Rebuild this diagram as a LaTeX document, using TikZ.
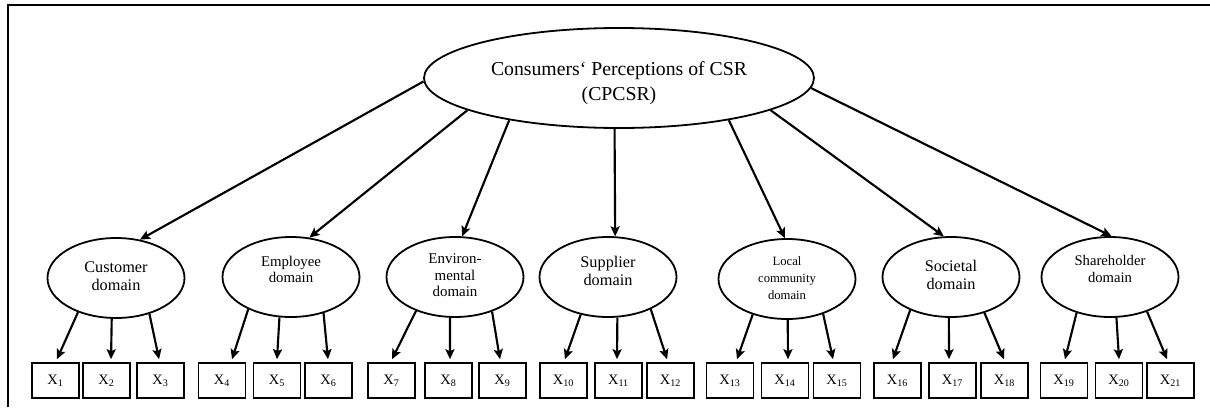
\documentclass[tikz,border=0pt]{standalone}
\usepackage{fontspec}
\setmainfont{Liberation Serif}
\usetikzlibrary{shapes.geometric,arrows.meta}
% keep the text block's height and depth, only move it vertically
\newcommand\liftby[2]{\raisebox{#1}[\height][\depth]{#2}}
\newcommand\lines[1]{\begin{tabular}{@{}c@{}}#1\end{tabular}}

\begin{document}
\begin{tikzpicture}[x=0.75pt,y=-0.75pt,
  frame/.style={line width=1.4pt},
  construct/.style={ellipse,draw,line width=1.35pt,minimum width=292.5pt,
    minimum height=75pt,inner sep=0pt,font=\fontsize{14.8}{18.75}\selectfont},
  latent/.style={ellipse,draw,line width=1.35pt,minimum width=102.75pt,
    minimum height=60pt,inner sep=0pt},
  indicator/.style={rectangle,draw,line width=1.2pt,minimum width=35.25pt,
    minimum height=26.25pt,inner sep=0pt,font=\fontsize{10.8}{12}\selectfont},
  load/.style={-{Stealth[length=7.5pt,width=6.8pt,inset=1.5pt]},line width=1.6pt},
]
\useasboundingbox (0,0) rectangle (1210,407);

% frame lines along the top and left edges
\coordinate (fbl) at (8,407);
\coordinate (ftl) at (8,5);
\coordinate (ftr) at (1210,5);
\draw[frame] (fbl) -- (ftl) -- (ftr);

% second-order construct
\node[construct] (cp) at (619,78)
  {\liftby{-3.75pt}{\lines{Consumers‘ Perceptions of CSR\\(CPCSR)}}};

% first-order domains
\node[latent,font=\fontsize{12.2}{13.1}\selectfont] (d1) at (116,278)
  {\lines{Customer\\domain}};
\node[latent,font=\fontsize{11.1}{12}\selectfont] (d2) at (291,277)
  {\liftby{4.5pt}{\lines{Employee\\domain}}};
\node[latent,font=\fontsize{11.2}{12.4}\selectfont] (d3) at (455,277)
  {\lines{Environ-\\mental\\domain}};
\node[latent,font=\fontsize{12.2}{13.9}\selectfont] (d4) at (608,277)
  {\liftby{3pt}{\lines{Supplier\\domain}}};
\node[latent,font=\fontsize{9.5}{12.75}\selectfont] (d5) at (787,279)
  {\lines{Local\\community\\domain}};
\node[latent,font=\fontsize{12.2}{13.5}\selectfont] (d6) at (951,277)
  {\lines{Societal\\domain}};
\node[latent,font=\fontsize{11}{12.75}\selectfont] (d7) at (1110,277)
  {\liftby{4.5pt}{\lines{Shareholder\\domain}}};

% observed indicators
\foreach \n/\cx in {1/55.5,2/106.5,3/160.5,4/222,5/277,6/328.5,7/391.5,
                    8/448.5,9/502.5,10/563.5,11/618.5,12/670.5,13/730,14/785,
                    15/837,16/897.5,17/952.5,18/1004.5,19/1064,20/1119,21/1170.5}
  \node[indicator] (x\n) at (\cx,380.5) {X\textsubscript{\n}};

% construct -> domains
\draw[load] (cp.181.5) -- (d1.58);
\draw[load] (cp.192.5) -- (d2.65);
\draw[load] (cp.201.5) -- (d3.80);
\draw[load] (cp.265.5) -- (d4.80);
\draw[load] (cp.339) -- (d5.93);
\draw[load] (cp.348) -- (d6.100);
\draw[load] (cp.357) -- (d7.88);

% domains -> indicators
\foreach \d/\a/\x/\s in {d1/222/x1/1.1,d1/264/x2/3.4,d1/313/x3/-1.1,
                         d2/217/x4/7.5,d2/254/x5/0,d2/312/x6/-0.4,
                         d3/221/x7/0.4,d3/263/x8/1.1,d3/317/x9/-1.9,
                         d4/234/x10/1.1,d4/283/x11/-1.1,d4/323/x12/-2.6,
                         d5/226/x13/5.25,d5/271/x14/2.25,d5/316/x15/-3,
                         d6/219/x16/-3.4,d6/267/x17/-2.6,d6/313/x18/-0.4,
                         d7/227/x19/0.75,d7/279/x20/0,d7/317/x21/-2.6}
  \draw[load] (\d.\a) -- ([xshift=\s pt,yshift=2.25pt]\x.north);
\end{tikzpicture}
\end{document}
